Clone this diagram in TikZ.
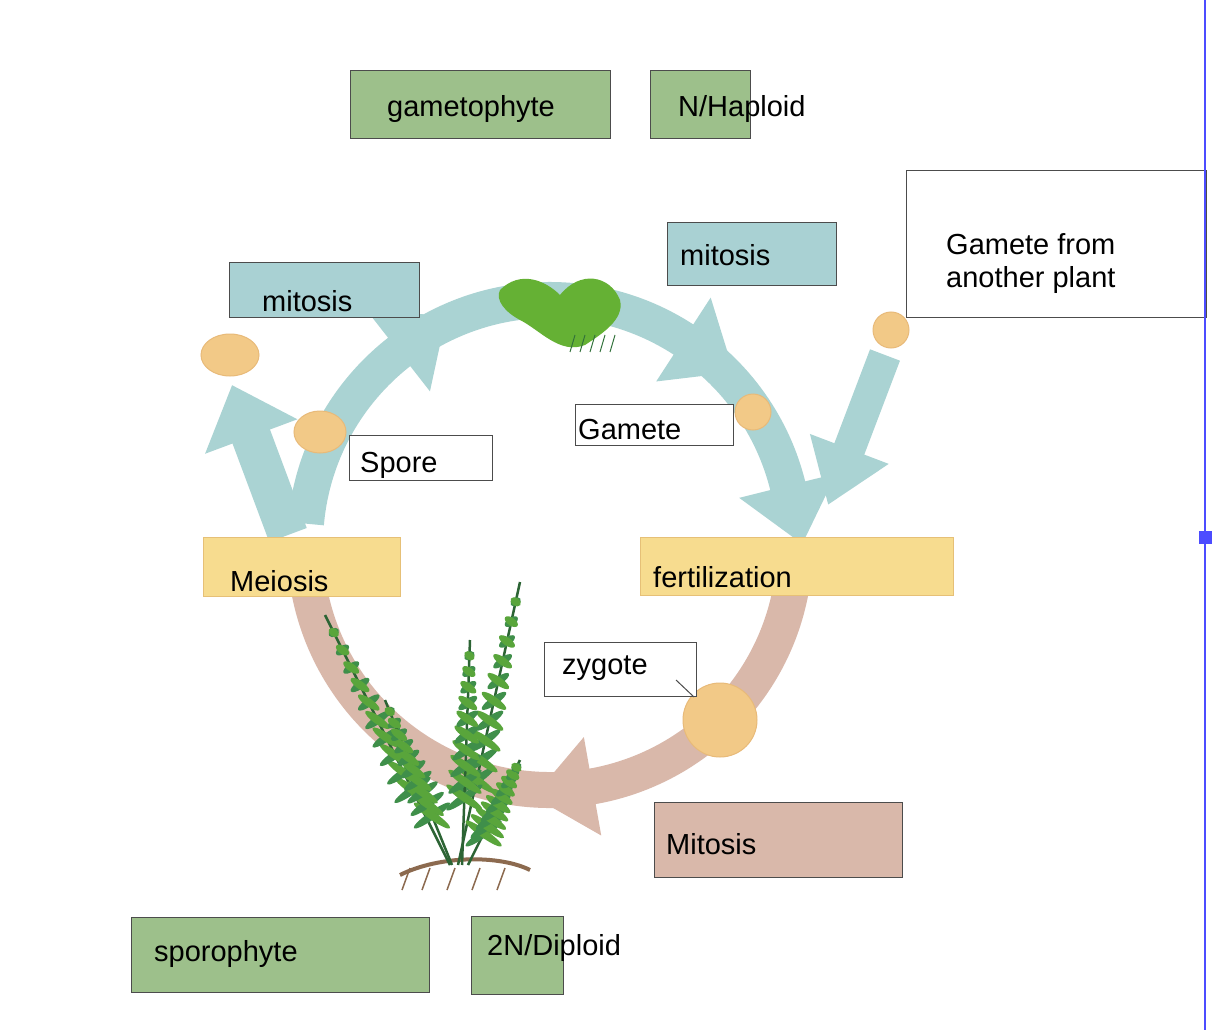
\documentclass[tikz,border=0pt]{standalone}
\usepackage{fontspec}
\setmainfont{Liberation Sans}
\usetikzlibrary{arrows.meta,calc}
\definecolor{grbox}{HTML}{9DC08B}
\definecolor{blbox}{HTML}{A9D1D3}
\definecolor{ylbox}{HTML}{F7DC8F}
\definecolor{pkbox}{HTML}{D9B8AA}
\definecolor{cyc}{HTML}{AAD3D3}
\definecolor{cell}{HTML}{F2C987}
\definecolor{leaf}{HTML}{3F8F4A}
\definecolor{root}{HTML}{8C6A4F}
\tikzset{
  box/.style={draw=black!70,line width=1.2pt,anchor=north west,inner sep=0pt},
  lbl/.style={anchor=west,inner sep=0pt,yshift=-3pt,font=\fontsize{29}{33}\selectfont},
  spore/.style={fill=cell,draw=cell!80!brown,line width=1pt}
}
\begin{document}
\begin{tikzpicture}[x=1pt,y=-1pt]
  \useasboundingbox (0,0) rectangle (1224,1030);
  \fill[white] (0,0) rectangle (1224,1030);
  \coordinate (c) at (550,545);

  % the cycle
  \draw[cyc,line width=36pt] ([shift={(185:245)}]c) arc (185:352:245);
  \draw[pkbox,line width=36pt] ([shift={(8:245)}]c) arc (8:176:245);
  \foreach \a in {232,303,346} {
    \begin{scope}[shift={(c)},rotate=-\a]
      \fill[cyc] (195,0) -- (295,0) -- (245,60) -- cycle;
    \end{scope}
  }
  \begin{scope}[shift={(c)},rotate=-80]
    \fill[pkbox] (195,0) -- (295,0) -- (245,60) -- cycle;
  \end{scope}

  % arrows
  \coordinate (m0) at (288,535);
  \coordinate (m1) at (232,385);
  \draw[cyc,line width=40pt,-{Triangle[length=55pt,width=95pt]}] (m0) -- (m1);
  \coordinate (g0) at (885,355);
  \coordinate (g1) at (828,505);
  \draw[cyc,line width=32pt,-{Triangle[length=60pt,width=80pt]}] (g0) -- (g1);

  % cells
  \fill[spore] (230,355) ellipse (29 and 21);
  \fill[spore] (320,432) ellipse (26 and 21);
  \fill[spore] (753,412) circle (18);
  \fill[spore] (891,330) circle (18);
  \fill[spore] (720,720) circle (37);

  % gametophyte
  \fill[leaf!70!lime] (500,290) .. controls (520,270) and (545,280) .. (560,295)
    .. controls (580,270) and (610,275) .. (620,300)
    .. controls (625,320) and (600,335) .. (585,345)
    .. controls (560,355) and (540,330) .. (520,320)
    .. controls (505,312) and (495,300) .. (500,290);
  \foreach \x in {575,585,595,605,615} {
    \draw[leaf!80!black,line width=1pt] (\x,335) -- (\x-5,352);
  }

  % fern
  \draw[root,line width=4pt] (400,875) .. controls (440,855) and (500,855) .. (530,870);
  \foreach \x in {410,430,455,480,505} {
    \draw[root,line width=1.5pt] (\x,868) -- (\x-8,890);
  }
  \foreach \sx/\sy/\tx/\ty in {450/865/325/615, 458/865/520/582, 462/865/470/640, 452/865/385/700, 468/865/520/760} {
    \draw[leaf!70!black,line width=2.5pt] (\sx,\sy) -- (\tx,\ty);
    \foreach \t in {0.3,0.37,...,0.97} {
      \fill[leaf,rotate around={35:($(\sx,\sy)!\t!(\tx,\ty)$)}] ($(\sx,\sy)!\t!(\tx,\ty)$) ellipse ({26*(1.15-\t)} and 4);
      \fill[leaf!80!lime,rotate around={-35:($(\sx,\sy)!\t!(\tx,\ty)$)}] ($(\sx,\sy)!\t!(\tx,\ty)$) ellipse ({26*(1.15-\t)} and 4);
    }
  }

  % boxes
  \node[box,fill=grbox,minimum width=260pt,minimum height=68pt] (gam) at (350,70) {};
  \node[lbl] (gamt) at (387,106) {gametophyte};
  \node[box,fill=grbox,minimum width=100pt,minimum height=68pt] (hap) at (650,70) {};
  \node[lbl] (hapt) at (678,106) {N/Haploid};
  \node[box,fill=blbox,minimum width=190pt,minimum height=55pt] (mit1) at (229,262) {};
  \node[lbl] (mit1t) at (262,298) {mitosis};
  \node[box,fill=blbox,minimum width=169pt,minimum height=63pt] (mit2) at (667,222) {};
  \node[lbl] (mit2t) at (680,252) {mitosis};
  \node[box,fill=white,minimum width=300pt,minimum height=147pt] (oth) at (906,170) {};
  \node[lbl,align=left] (otht) at (946,261) {Gamete from\\another plant};
  \node[box,fill=white,minimum width=158pt,minimum height=41pt] (gte) at (575,404) {};
  \node[lbl] (gtet) at (578,427) {Gamete};
  \node[box,fill=white,minimum width=143pt,minimum height=45pt] (spo) at (349,435) {};
  \node[lbl] (spot) at (360,462) {Spore};
  \node[box,fill=ylbox,draw=ylbox!70!brown,minimum width=197pt,minimum height=59pt] (mei) at (203,537) {};
  \node[lbl] (meit) at (230,578) {Meiosis};
  \node[box,fill=ylbox,draw=ylbox!70!brown,minimum width=313pt,minimum height=58pt] (fer) at (640,537) {};
  \node[lbl] (fert) at (653,574) {fertilization};
  \node[box,fill=white,minimum width=152pt,minimum height=54pt] (zyg) at (544,642) {};
  \node[lbl] (zygt) at (562,665) {zygote};
  \coordinate (zp) at (694,697);
  \draw[black!70,line width=1pt] (676,680) -- (zp);
  \node[box,fill=pkbox,minimum width=248pt,minimum height=75pt] (mit3) at (654,802) {};
  \node[lbl] (mit3t) at (666,841) {Mitosis};
  \node[box,fill=grbox,minimum width=298pt,minimum height=75pt] (spr) at (131,917) {};
  \node[lbl] (sprt) at (154,951) {sporophyte};
  \node[box,fill=grbox,minimum width=92pt,minimum height=78pt] (dip) at (471,916) {};
  \node[lbl] (dipt) at (487,945) {2N/Diploid};

  % side bar
  \draw[blue!70,line width=2pt] (1205,0) -- (1205,1030);
  \fill[blue!70] (1199,531) rectangle (1212,544);
\end{tikzpicture}
\end{document}
